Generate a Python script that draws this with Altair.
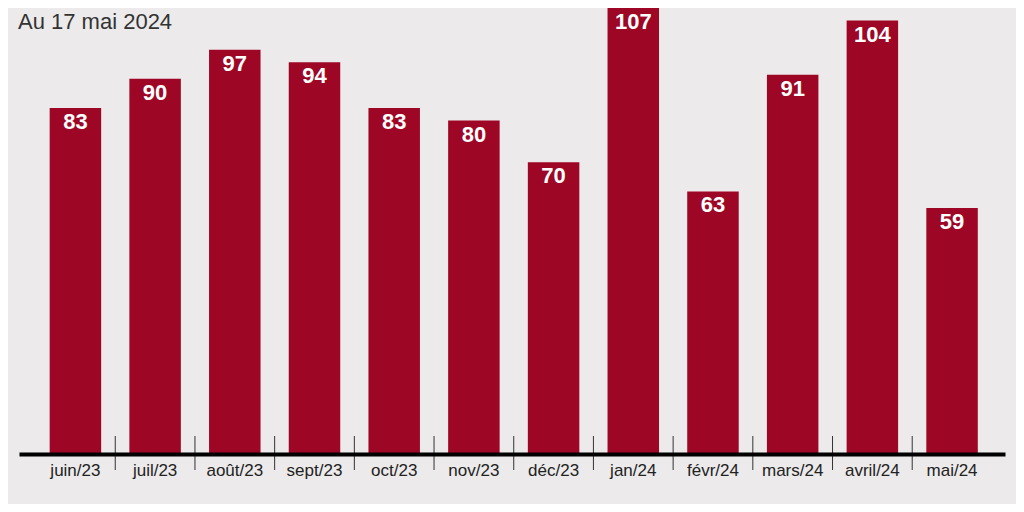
import altair as alt
import pandas as pd

months = ["juin/23", "juil/23", "août/23", "sept/23", "oct/23", "nov/23",
          "déc/23", "jan/24", "févr/24", "mars/24", "avril/24", "mai/24"]
values = [83, 90, 97, 94, 83, 80, 70, 107, 63, 91, 104, 59]
title_text = "Au 17 mai 2024"

BG = "#ECEAEB"
BAR = "#9E0625"
FONT = "Liberation Sans"

df = pd.DataFrame({"month": months, "value": values})
ticks_df = pd.DataFrame({"month": months[:-1]})
title_df = pd.DataFrame({"t": [title_text]})

xscale = alt.Scale(domain=months, paddingInner=0.354, paddingOuter=0.363, align=0.53)
yscale = alt.Scale(domain=[0, 107], nice=False, zero=True)

x_enc = alt.X("month:N", sort=months, scale=xscale, title=None,
              axis=alt.Axis(labelAngle=0, labelFontSize=17, labelColor="#222222",
                            labelFont=FONT, labelPadding=8, ticks=False, tickSize=0,
                            domainColor="#000000", domainWidth=4, grid=False,
                            zindex=1, labelFontWeight="normal"))

bars = alt.Chart(df).mark_bar(color=BAR).encode(
    x=x_enc,
    y=alt.Y("value:Q", scale=yscale, axis=None),
)

labels = alt.Chart(df).mark_text(
    color="white", fontSize=22, fontWeight="bold", font=FONT,
    baseline="middle", dy=14
).encode(
    x=alt.X("month:N", sort=months, scale=xscale),
    y=alt.Y("value:Q", scale=yscale),
    text="value:Q",
)

ticks = alt.Chart(ticks_df).mark_rule(
    color="#333333", strokeWidth=1, xOffset=39.85
).encode(
    x=alt.X("month:N", sort=months, scale=xscale),
    y=alt.value(428),
    y2=alt.value(462),
)

title = alt.Chart(title_df).mark_text(
    align="left", baseline="middle", fontSize=22, font=FONT, color="#333333"
).encode(
    text="t:N",
    x=alt.value(-1),
    y=alt.value(14),
)

chart = alt.layer(bars, labels, ticks, title).properties(
    width=986, height=446,
    background=BG,
    padding={"left": 11, "top": 0, "right": 11, "bottom": 50},
    autosize="none",
).configure_view(stroke=None, fill=BG)

chart.save("out.html", embed_options={"renderer": "svg", "actions": False})
